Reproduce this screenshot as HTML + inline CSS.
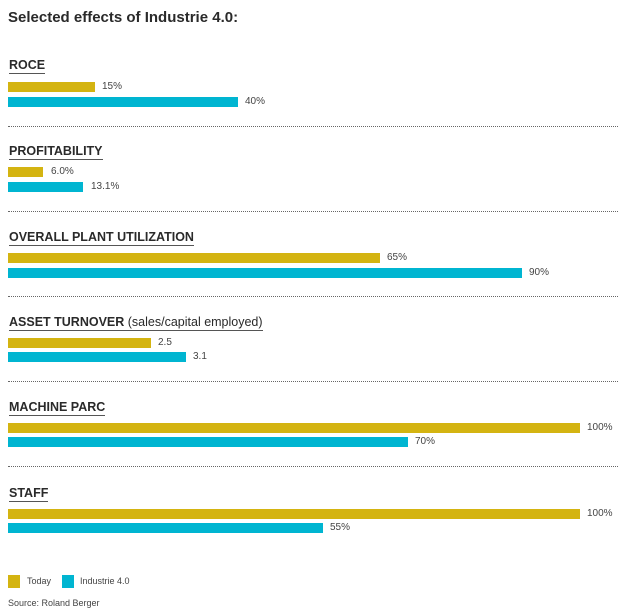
<!DOCTYPE html>
<html><head><style>
body{margin:0;width:639px;height:614px;background:#fff;font-family:"Liberation Sans",sans-serif;color:#333;position:relative;overflow:hidden}
.a{position:absolute}
.t{left:8px;top:9px;font-size:15px;font-weight:bold;color:#2a2a2a}
.h{left:9px;font-size:12.5px;font-weight:bold;color:#2a2a2a;border-bottom:1.5px solid #555;line-height:14px;padding-bottom:1px}
.h span{font-weight:normal}
.g{background:#d4b411;height:10px;left:8px}
.c{background:#00b5d1;height:10px;left:8px}
.v{font-size:10px;color:#444}
.d{left:8px;width:610px;border-top:1.5px dotted #666;height:0}
.s{font-size:9px;color:#444}
</style></head><body>
<div class="a t">Selected effects of Industrie 4.0:</div>

<div class="a h" style="top:58px">ROCE</div>
<div class="a g" style="top:82px;width:87px"></div><div class="a v" style="left:102px;top:81px">15%</div>
<div class="a c" style="top:97px;width:230px"></div><div class="a v" style="left:245px;top:96px">40%</div>
<div class="a d" style="top:126px"></div>

<div class="a h" style="top:144px">PROFITABILITY</div>
<div class="a g" style="top:167px;width:35px"></div><div class="a v" style="left:51px;top:166px">6.0%</div>
<div class="a c" style="top:182px;width:75px"></div><div class="a v" style="left:91px;top:181px">13.1%</div>
<div class="a d" style="top:211px"></div>

<div class="a h" style="top:230px">OVERALL PLANT UTILIZATION</div>
<div class="a g" style="top:253px;width:372px"></div><div class="a v" style="left:387px;top:252px">65%</div>
<div class="a c" style="top:268px;width:514px"></div><div class="a v" style="left:529px;top:267px">90%</div>
<div class="a d" style="top:296px"></div>

<div class="a h" style="top:315px">ASSET TURNOVER <span>(sales/capital employed)</span></div>
<div class="a g" style="top:338px;width:143px"></div><div class="a v" style="left:158px;top:337px">2.5</div>
<div class="a c" style="top:352px;width:178px"></div><div class="a v" style="left:193px;top:351px">3.1</div>
<div class="a d" style="top:381px"></div>

<div class="a h" style="top:400px">MACHINE PARC</div>
<div class="a g" style="top:423px;width:572px"></div><div class="a v" style="left:587px;top:422px">100%</div>
<div class="a c" style="top:437px;width:400px"></div><div class="a v" style="left:415px;top:436px">70%</div>
<div class="a d" style="top:466px"></div>

<div class="a h" style="top:486px">STAFF</div>
<div class="a g" style="top:509px;width:572px"></div><div class="a v" style="left:587px;top:508px">100%</div>
<div class="a c" style="top:523px;width:315px"></div><div class="a v" style="left:330px;top:522px">55%</div>

<div class="a" style="left:8px;top:575px;width:12px;height:13px;background:#d4b411"></div>
<div class="a s" style="left:27px;top:576px">Today</div>
<div class="a" style="left:62px;top:575px;width:12px;height:13px;background:#00b5d1"></div>
<div class="a s" style="left:80px;top:576px">Industrie 4.0</div>
<div class="a s" style="left:8px;top:598px">Source: Roland Berger</div>
</body></html>
